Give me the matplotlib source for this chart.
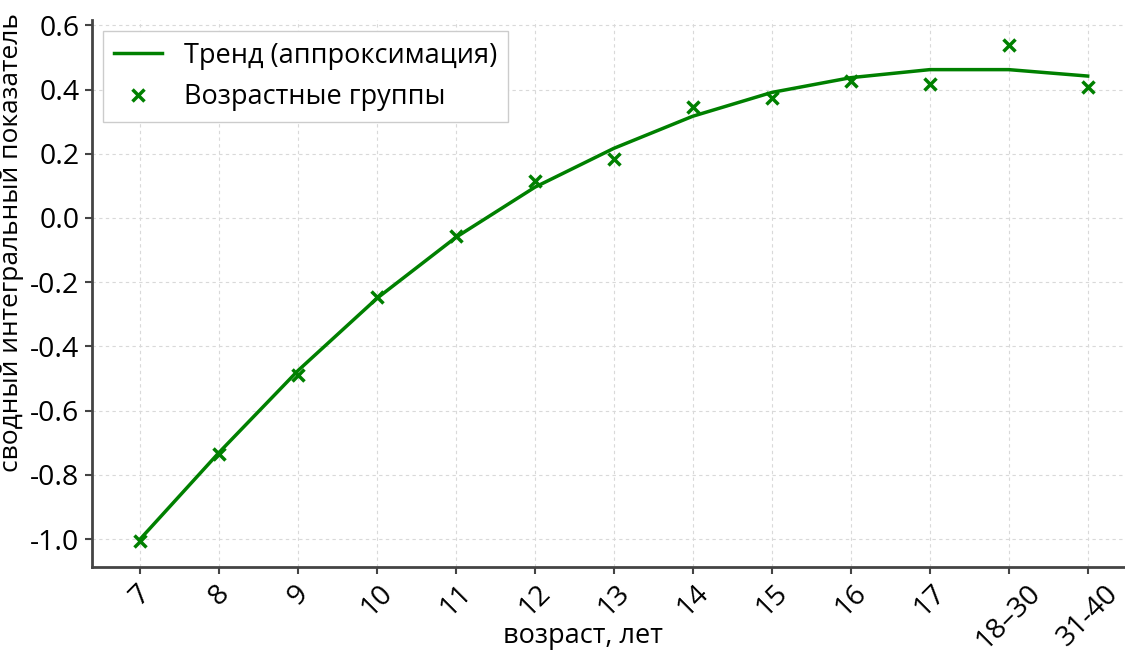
import matplotlib.pyplot as plt
import numpy as np

plt.rcParams['font.family'] = ['Open Sans', 'DejaVu Sans']
plt.rcParams['axes.unicode_minus'] = False

age_labels = ['7', '8', '9', '10', '11', '12', '13', '14', '15', '16', '17', '18–30', '31-40']
groups = np.array([-1.005, -0.735, -0.49, -0.245, -0.055, 0.115, 0.185, 0.345, 0.374, 0.428, 0.418, 0.540, 0.408])
trend = np.array([-1.0, -0.73, -0.475, -0.25, -0.06, 0.096, 0.217, 0.317, 0.391, 0.437, 0.462, 0.462, 0.442])
y_ticks = [-1.0, -0.8, -0.6, -0.4, -0.2, 0.0, 0.2, 0.4, 0.6]
y_tick_labels = ['-1.0', '-0.8', '-0.6', '-0.4', '-0.2', '0.0', '0.2', '0.4', '0.6']

x = np.arange(len(age_labels))

fig = plt.figure(figsize=(11.25, 6.51), dpi=100)
ax = fig.add_axes([0.0818, 0.129, 0.918, 0.840])

ax.plot(x, trend, color='#008000', linewidth=2.5, label='Тренд (аппроксимация)')
ax.plot(x, groups, linestyle='none', marker='x', markersize=9, markeredgewidth=2.5,
        color='#008000', label='Возрастные группы')

ax.set_xlim(-0.61, 12.47)
ax.set_ylim(-1.087, 0.616)
ax.set_xticks(x)
ax.set_xticklabels(age_labels, rotation=45)
ax.set_yticks(y_ticks)
ax.set_yticklabels(y_tick_labels)

ax.grid(True, linestyle=(0, (3, 3)), color='#d9d9d9', linewidth=0.8)
for s in ['top', 'right']:
    ax.spines[s].set_visible(False)
for s in ['left', 'bottom']:
    ax.spines[s].set_color('#444444')
    ax.spines[s].set_linewidth(2)
ax.tick_params(labelsize=20.5, color='#444444', width=1.5, length=5, pad=4)

ax.set_xlabel('возраст, лет', fontsize=19.5)
ax.set_ylabel('сводный интегральный показатель', fontsize=19)
ax.xaxis.set_label_coords(0.475, -0.1)
ax.yaxis.set_label_coords(-0.066, 0.594)

leg = ax.legend(loc='upper left', fontsize=19.5, fancybox=False, framealpha=1,
                edgecolor='#cccccc', borderaxespad=0.4, handlelength=1.8)

fig.savefig('out.png', dpi=100)
